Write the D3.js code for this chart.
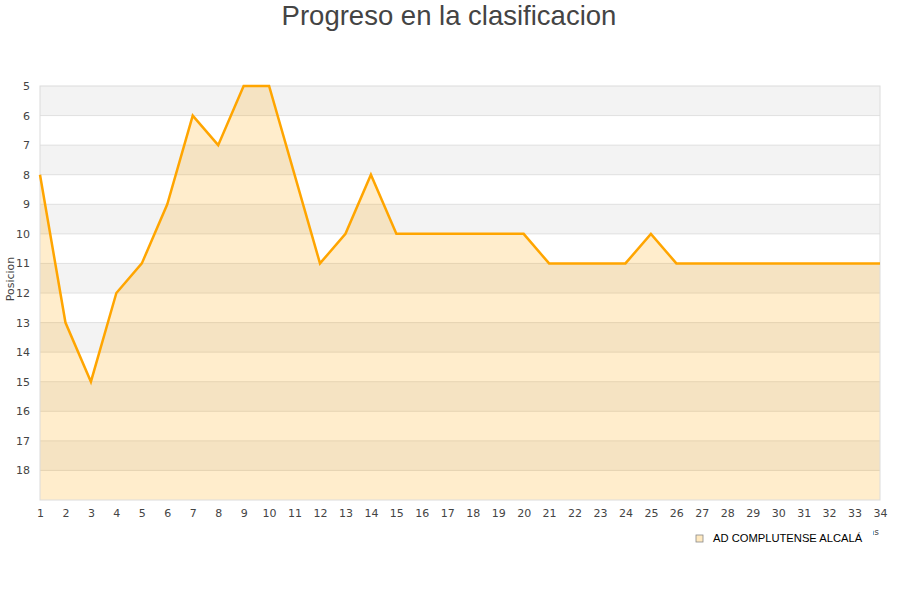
<!DOCTYPE html>
<html lang="es">
<head>
<meta charset="UTF-8">
<title>Progreso en la clasificacion</title>
<script src="https://d3js.org/d3.v7.min.js"></script>
<style>
  body { margin: 0; background: #fff; }
  .tick text { font-family: "DejaVu Sans", sans-serif; font-size: 11px; fill: #444; }
  .grid line { stroke: #e0e0e0; }
</style>
</head>
<body>
<svg id="chart" width="900" height="600"></svg>
<script>
  // jornadas y posiciones
  const jornadas = d3.range(1, 35);
  const posiciones = [8, 13, 15, 12, 11, 9, 6, 7, 5, 5, 8, 11, 10, 8, 10, 10, 10, 10, 10, 10,
                      11, 11, 11, 11, 10, 11, 11, 11, 11, 11, 11, 11, 11, 11];
  const yTicks = d3.range(5, 19);
  const equipo = "AD COMPLUTENSE ALCALÁ";

  const width = 900, height = 600;
  const margin = { top: 86, right: 20, bottom: 100, left: 40 };
  const innerW = width - margin.left - margin.right;
  const innerH = height - margin.top - margin.bottom;

  const svg = d3.select("#chart");

  const x = d3.scaleLinear().domain([1, 34]).range([0, innerW]);
  const y = d3.scaleLinear().domain([5, 19]).range([0, innerH]);

  const g = svg.append("g").attr("transform", `translate(${margin.left},${margin.top})`);

  // alternating bands
  g.selectAll(".band")
    .data(d3.range(5, 19, 2))
    .enter().append("rect")
    .attr("class", "band")
    .attr("x", 0)
    .attr("width", innerW)
    .attr("y", d => y(d))
    .attr("height", d => y(d + 1) - y(d))
    .attr("fill", "#f3f3f3");

  // horizontal grid
  g.append("g").attr("class", "grid")
    .selectAll("line")
    .data(d3.range(6, 19))
    .enter().append("line")
    .attr("x1", 0).attr("x2", innerW)
    .attr("y1", d => y(d)).attr("y2", d => y(d));

  // area + line
  const area = d3.area()
    .x((d, i) => x(jornadas[i]))
    .y0(innerH)
    .y1(d => y(d));
  const line = d3.line()
    .x((d, i) => x(jornadas[i]))
    .y(d => y(d));

  g.append("path")
    .datum(posiciones)
    .attr("d", area)
    .attr("fill", "rgba(255,165,0,0.2)");

  // frame
  g.append("rect")
    .attr("width", innerW).attr("height", innerH)
    .attr("fill", "none").attr("stroke", "#dcdcdc");

  g.append("path")
    .datum(posiciones)
    .attr("d", line)
    .attr("fill", "none")
    .attr("stroke", "#ffa500")
    .attr("stroke-width", 2.5)
    .attr("stroke-linejoin", "miter");

  // axes
  const xAxis = g.append("g")
    .attr("transform", `translate(0,${innerH})`)
    .call(d3.axisBottom(x).tickValues(jornadas).tickFormat(d3.format("d")).tickSize(0).tickPadding(9));
  xAxis.select(".domain").remove();

  const yAxis = g.append("g")
    .call(d3.axisLeft(y).tickValues(yTicks).tickFormat(d3.format("d")).tickSize(0).tickPadding(10));
  yAxis.select(".domain").remove();

  // titles
  svg.append("text")
    .attr("x", width / 2 - 1).attr("y", 25)
    .attr("text-anchor", "middle")
    .attr("font-family", "Liberation Sans, Arial, sans-serif")
    .attr("font-size", 27.5)
    .attr("fill", "#444")
    .text("Progreso en la clasificacion");

  svg.append("text")
    .attr("transform", `translate(14,${margin.top + innerH / 2 - 14}) rotate(-90)`)
    .attr("text-anchor", "middle")
    .attr("font-family", "DejaVu Sans, sans-serif")
    .attr("font-size", 11)
    .attr("fill", "#444")
    .text("Posicion");

  // x axis title, mostly hidden behind the legend as in the original
  svg.append("text")
    .attr("x", 879).attr("y", 535)
    .attr("text-anchor", "end")
    .attr("font-family", "DejaVu Sans, sans-serif")
    .attr("font-size", 9)
    .attr("fill", "#444")
    .text("Jornadas");

  // legend
  const legend = svg.append("g").attr("transform", "translate(690,524)");
  legend.append("rect")
    .attr("width", 183).attr("height", 24)
    .attr("fill", "#fff");
  legend.append("rect")
    .attr("x", 6).attr("y", 11).attr("width", 7).attr("height", 7)
    .attr("fill", "#ffe9c0").attr("stroke", "#888").attr("stroke-width", 0.8);
  legend.append("text")
    .attr("x", 23).attr("y", 18)
    .attr("font-family", "Liberation Sans, Arial, sans-serif")
    .attr("font-size", 11.2)
    .attr("fill", "#000")
    .text(equipo);
</script>
</body>
</html>
